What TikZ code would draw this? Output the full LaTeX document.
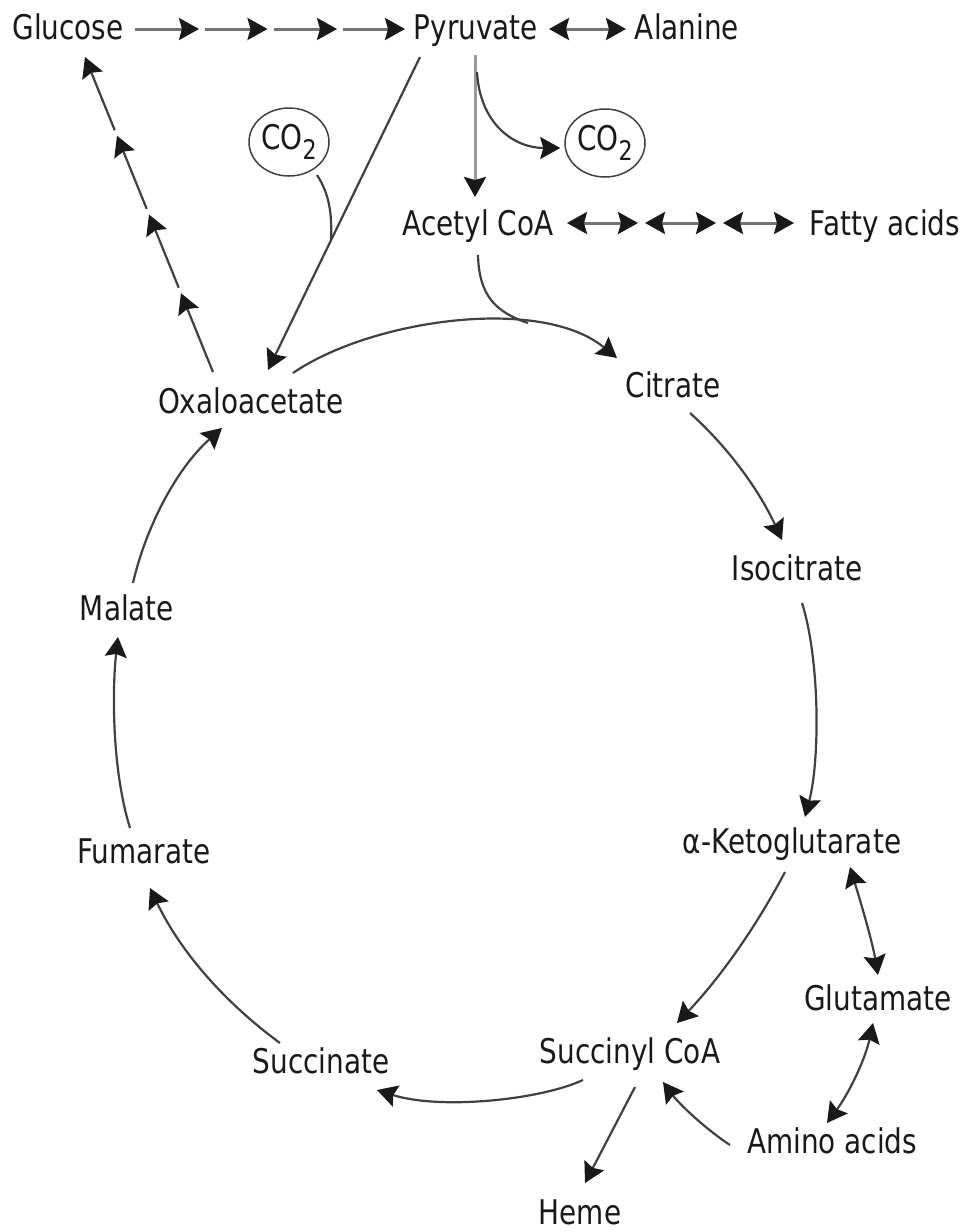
\documentclass[tikz,border=0pt]{standalone}
\usepackage{fontspec}
\setmainfont{DejaVu Sans}[FakeStretch=0.82]
\usetikzlibrary{arrows.meta,shapes.geometric,calc}
\newcommand\cosubtwo{\raisebox{-10pt}{\fontsize{27}{30}\selectfont 2}}
\begin{document}
\begin{tikzpicture}[x=1pt,y=-1pt,
  lbl/.style={inner sep=0pt, anchor=base, font=\fontsize{34}{40}\selectfont, text=black!90},
  co2/.style={ellipse, draw=black!75, line width=1.5pt, minimum width=80pt, minimum height=68pt, inner sep=0pt, font=\fontsize{34}{40}\selectfont, text=black!90},
  arw/.style={-{Stealth[length=20pt,width=22pt,inset=3pt,color=black!90]}},
  dblarw/.style={{Stealth[length=20pt,width=22pt,inset=3pt,color=black!90]}-{Stealth[length=20pt,width=22pt,inset=3pt,color=black!90]}},
  ln/.style={line width=2.2pt, draw=black!75},
  curv/.style={ln, arw},
  dblc/.style={ln, dblarw},
  bar/.style={line width=3pt, draw=black!55}]
\useasboundingbox (0,0) rectangle (972,1232);
% nodes
\node[lbl] (glu) at (68,39) {Glucose};
\node[lbl] (pyr) at (476,39) {Pyruvate};
\node[lbl] (ala) at (687,39) {Alanine};
\node[co2] (co2l) at (289,142) {CO\cosubtwo};
\node[co2] (co2r) at (605,143) {CO\cosubtwo};
\node[lbl] (acoa) at (478,235) {Acetyl CoA};
\node[lbl] (fat) at (885,235) {Fatty acids};
\node[lbl] (cit) at (673,397) {Citrate};
\node[lbl] (iso) at (797,580) {Isocitrate};
\node[lbl] (akg) at (792,853) {α-Ketoglutarate};
\node[lbl] (glm) at (878,1010) {Glutamate};
\node[lbl] (scoa) at (630,1063) {Succinyl CoA};
\node[lbl] (amino) at (832,1153) {Amino acids};
\node[lbl] (heme) at (580,1224) {Heme};
\node[lbl] (succ) at (321,1073) {Succinate};
\node[lbl] (fum) at (144,863) {Fumarate};
\node[lbl] (mal) at (127,620) {Malate};
\node[lbl] (oaa) at (251,413) {Oxaloacetate};
% glucose -> pyruvate
\coordinate (ga) at (202,29);
\coordinate (gb) at (270.5,29);
\coordinate (gc) at (340,29);
\draw[bar,arw] ([shift={(67,-10)}]glu.base) -- ([xshift=-3pt]ga);
\draw[bar,arw] ([xshift=3pt]ga) -- ([xshift=-3pt]gb);
\draw[bar,arw] ([xshift=3pt]gb) -- ([xshift=-3pt]gc);
\draw[bar,arw] ([xshift=3pt]gc) -- ([shift={(-71,-10)}]pyr.base);
% pyruvate <-> alanine
\draw[bar,dblarw] ([shift={(73,-10)}]pyr.base) -- ([shift={(-61,-10)}]ala.base);
% acetyl CoA <-> fatty acids
\coordinate (fa) at (641.5,223);
\coordinate (fb) at (719.5,223);
\draw[bar,dblarw] ([shift={(89,-12)}]acoa.base) -- ([xshift=-3.5pt]fa);
\draw[bar,dblarw] ([xshift=3.5pt]fa) -- ([xshift=-3.5pt]fb);
\draw[bar,dblarw] ([xshift=3.5pt]fb) -- ([shift={(-91,-12)}]fat.base);
% pyruvate -> acetyl CoA
\draw[bar,draw=black!40,arw] ([shift={(-1,16)}]pyr.base) -- ([shift={(-3,-38)}]acoa.base);
% pyruvate -> CO2
\draw[curv] ([shift={(1,33)}]pyr.base) .. controls (480,125) and (515,148) .. ([shift={(-4,5)}]co2r.west);
% pyruvate -> oxaloacetate
\draw[curv] ([shift={(-56,18)}]pyr.base) -- ([shift={(17,-43)}]oaa.base);
\coordinate (j1) at (331,240);
\draw[ln] ([shift={(28,33)}]co2l.center) .. controls (330,195) and (332,215) .. (j1);
% oxaloacetate -> glucose
\coordinate (o0) at ([shift={(-38,-41)}]oaa.base);
\coordinate (o4) at ([shift={(17,18)}]glu.base);
\coordinate (o1) at ($(o0)!0.25!(o4)$);
\coordinate (o2) at ($(o0)!0.5!(o4)$);
\coordinate (o3) at ($(o0)!0.75!(o4)$);
\draw[curv] (o0) -- (o1);
\draw[curv,shorten <=6pt] (o1) -- (o2);
\draw[curv,shorten <=6pt] (o2) -- (o3);
\draw[curv,shorten <=6pt] (o3) -- (o4);
% oxaloacetate -> citrate
\draw[curv] ([shift={(42,-40)}]oaa.base) .. controls (370,320) and (540,295) .. ([shift={(-56,-39)}]cit.base);
\coordinate (j2) at (528,323);
\draw[ln] ([shift={(0,20)}]acoa.base) .. controls (479,295) and (495,312) .. (j2);
% cycle
\draw[curv] ([shift={(17,16)}]cit.base) .. controls (730,449) and (760,492) .. ([shift={(-15,-40)}]iso.base);
\draw[curv] ([shift={(5,23)}]iso.base) .. controls (820,660) and (820,760) .. ([shift={(13,-36)}]akg.base);
\draw[curv] ([shift={(-7,19)}]akg.base) .. controls (756,927) and (720,978) .. ([shift={(47,-40)}]scoa.base);
\draw[dblc] ([shift={(58,14)}]akg.base) .. controls (860,900) and (872,940) .. ([shift={(0,-35)}]glm.base);
\draw[dblc] ([shift={(-5,13)}]glm.base) .. controls (865,1060) and (849,1093) .. ([shift={(-5,-30)}]amino.base);
\draw[curv] ([shift={(-102,-8)}]amino.base) .. controls (707,1130) and (680,1105) .. ([shift={(33,19)}]scoa.base);
\draw[curv] ([shift={(5,24)}]scoa.base) -- ([shift={(5,-41)}]heme.base);
\draw[curv] ([shift={(-47,17)}]scoa.base) .. controls (540,1100) and (440,1110) .. ([shift={(56,17)}]succ.base);
\draw[curv] ([shift={(-41,-30)}]succ.base) .. controls (224,1002) and (180,951) .. ([shift={(6,25)}]fum.base);
\draw[curv] ([shift={(-14,-35)}]fum.base) .. controls (112,770) and (112,690) .. ([shift={(-9,17)}]mal.base);
\draw[curv] ([shift={(6,-37)}]mal.base) .. controls (145,530) and (175,470) .. ([shift={(-29,15)}]oaa.base);
\end{tikzpicture}
\end{document}
